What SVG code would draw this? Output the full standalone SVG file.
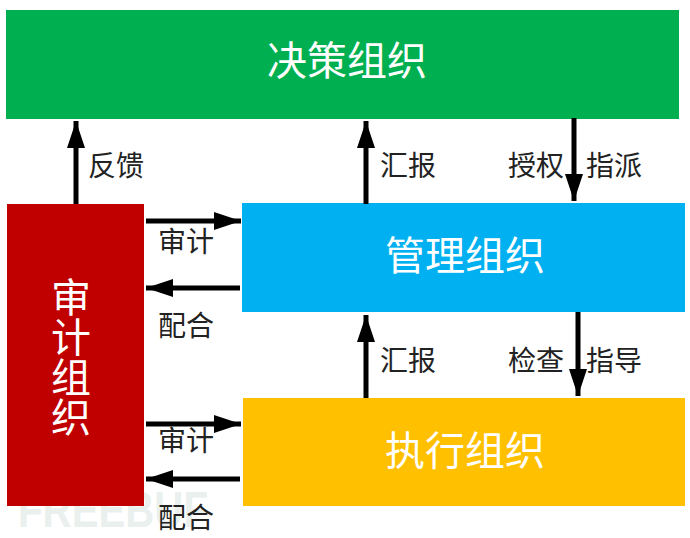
<svg xmlns="http://www.w3.org/2000/svg" width="690" height="538" viewBox="0 0 690 538">
<style>
text{font-family:"Noto Sans CJK SC","Noto Sans",sans-serif}
.t{font-size:40px;fill:#fff;text-anchor:middle;font-weight:400}
.v{writing-mode:vertical-rl;text-anchor:start}
.l{font-size:28px;fill:#222;text-anchor:middle;font-weight:400}
.c{stroke:#000;stroke-width:5;fill:none;marker-end:url(#a)}
.w{font-family:"Liberation Sans",sans-serif;font-size:50px;font-weight:700;fill:#e9f0ee}
</style>
<defs>
<marker id="a" markerUnits="userSpaceOnUse" markerWidth="28" markerHeight="20" refX="27" refY="10" orient="auto">
<path d="M0 1L27 10L0 19Z" fill="#000"/>
</marker>
</defs>
<rect width="690" height="538" fill="#fff"/>
<g id="watermark"><text class="w" x="18" y="527" textLength="190" lengthAdjust="spacingAndGlyphs">FREEBUF</text></g>
<g id="node-decision"><rect x="6" y="10" width="673" height="109" fill="#00b050"/><text class="t" x="347" y="75">决策组织</text></g>
<g id="node-manage"><rect x="242" y="203" width="443" height="109" fill="#00b0f0"/><text class="t" x="465" y="270">管理组织</text></g>
<g id="node-exec"><rect x="243" y="398" width="442" height="108" fill="#ffc000"/><text class="t" x="465" y="465">执行组织</text></g>
<g id="node-audit"><rect x="7" y="204" width="137" height="302" fill="#c00000"/>
<text class="t v" x="71" y="277">审计组织</text></g>
<g id="connectors">
<path class="c" d="M76 204V121"/>
<path class="c" d="M366 204V121"/>
<path class="c" d="M574 118V201"/>
<path class="c" d="M366 398V315"/>
<path class="c" d="M578 312V396"/>
<path class="c" d="M146 221H241"/>
<path class="c" d="M240 288H146"/>
<path class="c" d="M146 424H241"/>
<path class="c" d="M240 479H146"/>
</g>
<g id="labels">
<text class="l" x="116" y="176">反馈</text>
<text class="l" x="408" y="176">汇报</text>
<text class="l" x="536" y="176">授权</text>
<text class="l" x="614" y="176">指派</text>
<text class="l" x="408" y="371">汇报</text>
<text class="l" x="536" y="371">检查</text>
<text class="l" x="614" y="371">指导</text>
<text class="l" x="186" y="252">审计</text>
<text class="l" x="186" y="336">配合</text>
<text class="l" x="186" y="451">审计</text>
<text class="l" x="186" y="528">配合</text>
</g>
</svg>
